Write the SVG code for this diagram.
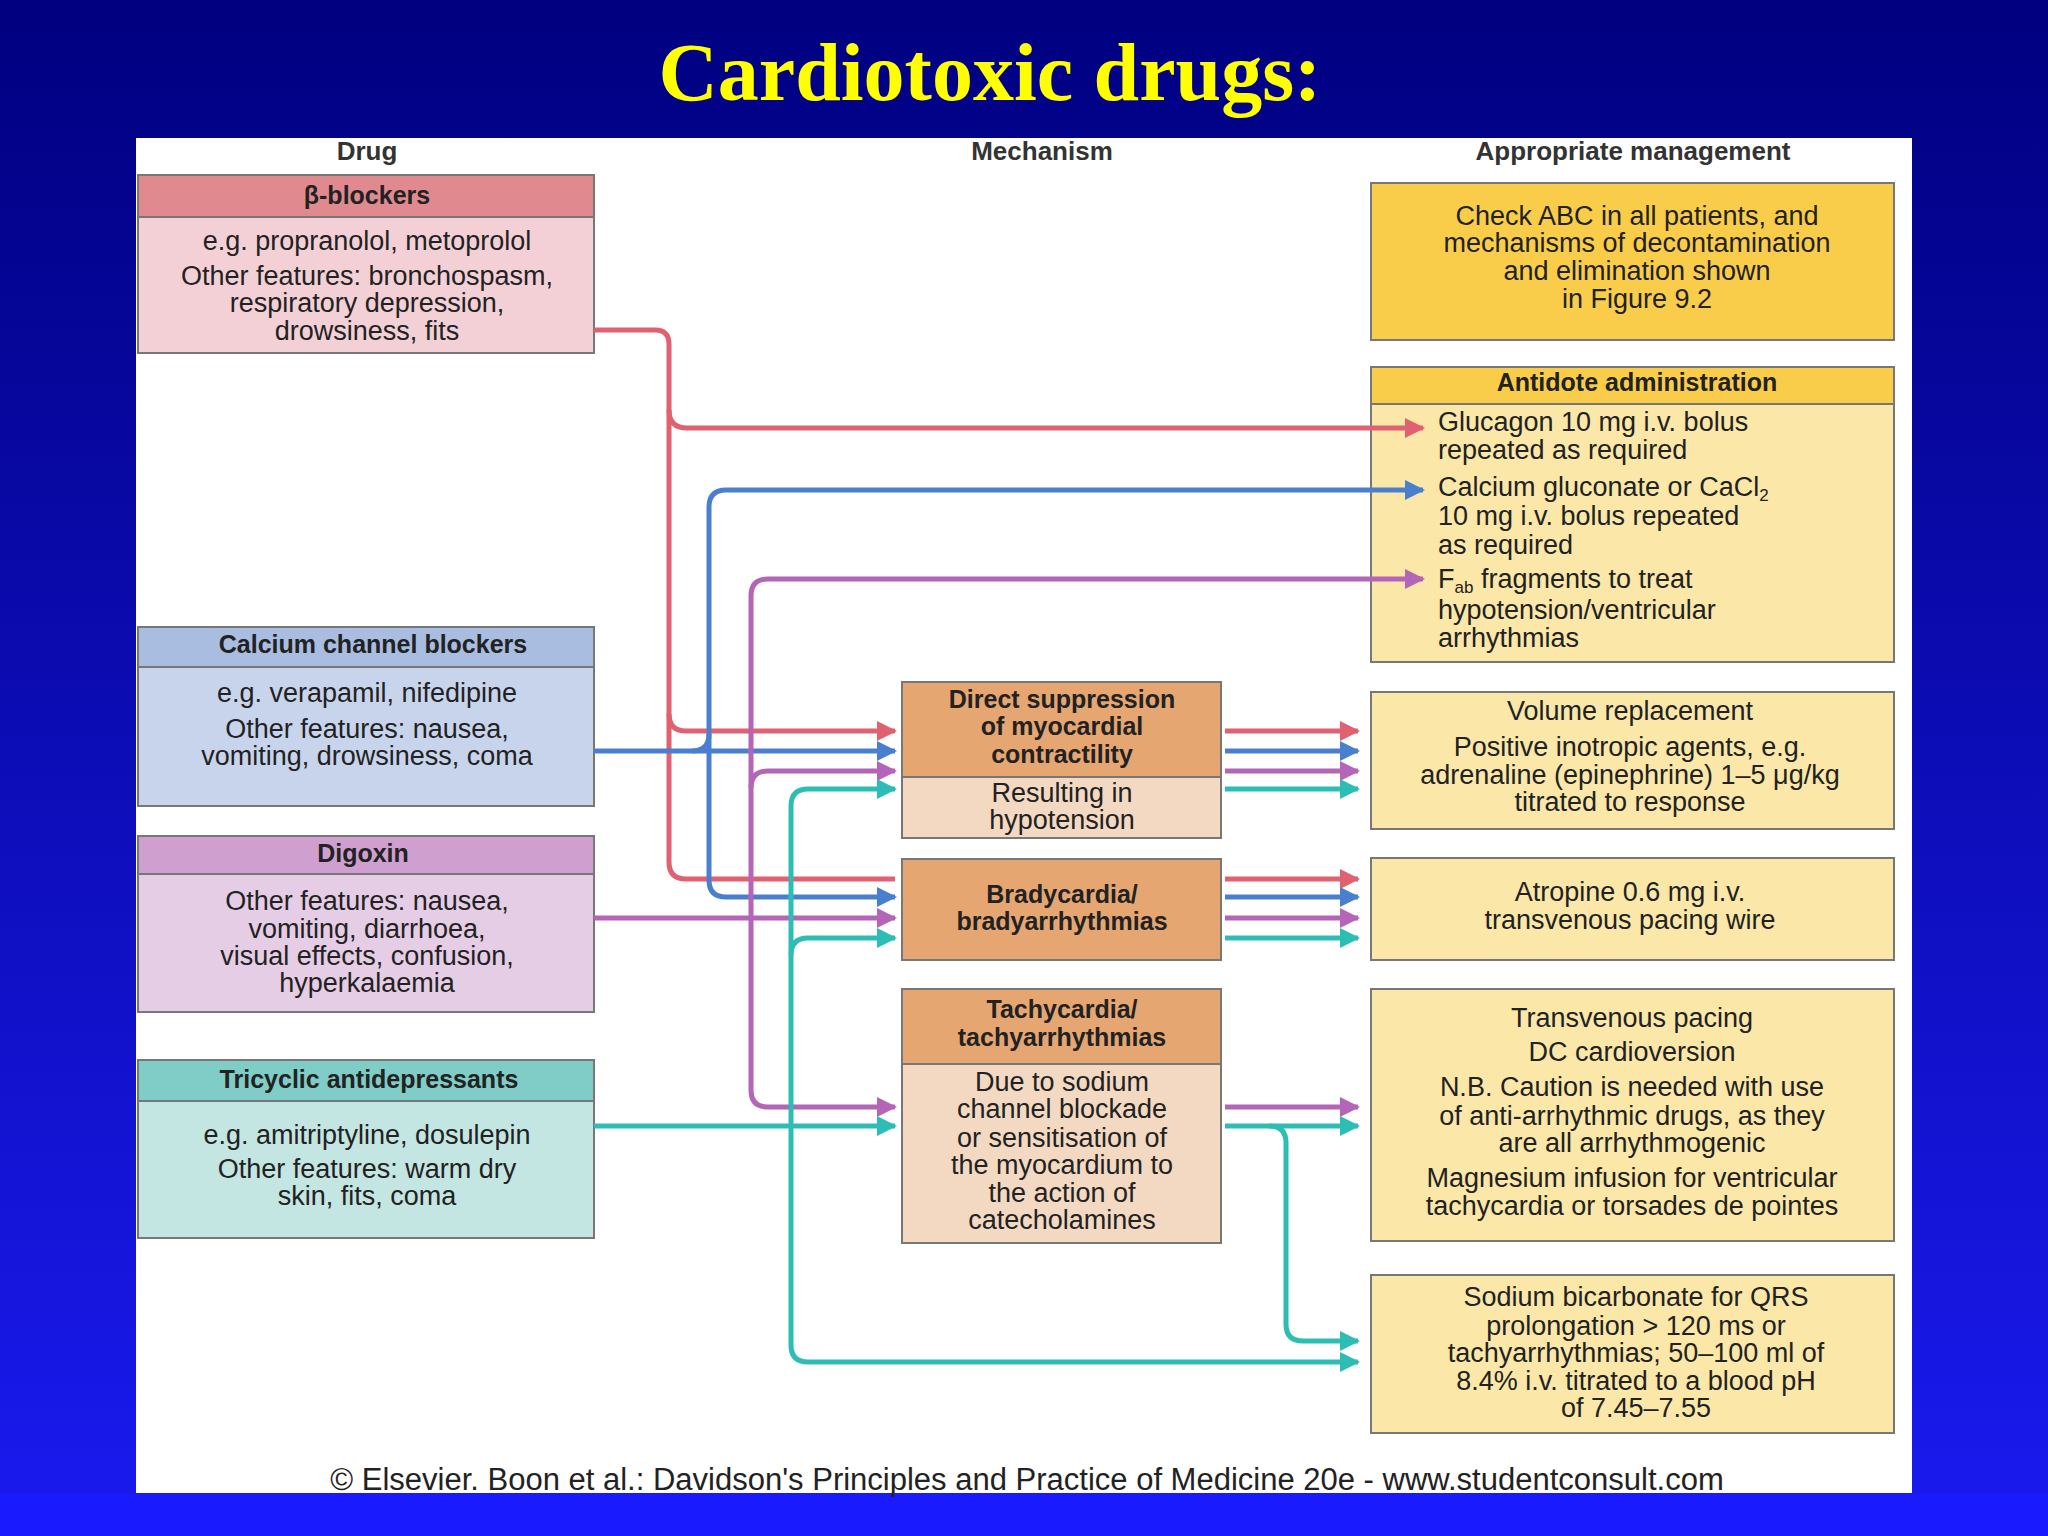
<svg xmlns="http://www.w3.org/2000/svg" width="2048" height="1536" viewBox="0 0 2048 1536">
<defs>
<linearGradient id="bg" x1="0" y1="0" x2="0" y2="1"><stop offset="0" stop-color="#000080"/><stop offset="1" stop-color="#1a1af0"/></linearGradient>
<marker id="mr" viewBox="0 0 10 10" refX="9" refY="5" markerWidth="4" markerHeight="4" orient="auto"><path d="M0,0L10,5L0,10z" fill="#e0616f"/></marker>
<marker id="mb" viewBox="0 0 10 10" refX="9" refY="5" markerWidth="4" markerHeight="4" orient="auto"><path d="M0,0L10,5L0,10z" fill="#4a7fd0"/></marker>
<marker id="mp" viewBox="0 0 10 10" refX="9" refY="5" markerWidth="4" markerHeight="4" orient="auto"><path d="M0,0L10,5L0,10z" fill="#b565b8"/></marker>
<marker id="mt" viewBox="0 0 10 10" refX="9" refY="5" markerWidth="4" markerHeight="4" orient="auto"><path d="M0,0L10,5L0,10z" fill="#2cbdb5"/></marker>
</defs>
<style>
text{font-family:"Liberation Sans",Arial,sans-serif;fill:#222;text-anchor:middle}
.b{font-size:27px}
.h{font-size:25px;font-weight:bold}
.l{text-anchor:start}
.col{font-size:26px;fill:#333;font-weight:bold}
rect{stroke:#777;stroke-width:2}
.r{stroke:#e0616f}.bl{stroke:#4a7fd0}.p{stroke:#b565b8}.t{stroke:#2cbdb5}
#connectors path{fill:none;stroke-width:5}
.r{marker-end:url(#mr)}.bl{marker-end:url(#mb)}.p{marker-end:url(#mp)}.t{marker-end:url(#mt)}
.nm{marker-end:none!important}
</style>
<rect x="0" y="0" width="2048" height="1536" fill="url(#bg)" style="stroke:none"/>
<rect x="0" y="1493" width="2048" height="43" fill="#1a1aff" style="stroke:none"/>
<text x="990" y="100" style="font-family:'Liberation Serif',serif;font-weight:bold;font-size:82px;fill:#ffff00">Cardiotoxic drugs:</text>
<rect x="136" y="138" width="1776" height="1355" fill="#fff" style="stroke:none"/>
<text class="col" x="367" y="160">Drug</text>
<text class="col" x="1042" y="160">Mechanism</text>
<text class="col" x="1633" y="160">Appropriate management</text>

<g id="beta">
<rect x="138" y="175" width="456" height="42" fill="#e08a90"/><rect x="138" y="217" width="456" height="136" fill="#f3d0d6"/>
<text class="h" x="367" y="204">β-blockers</text>
<text class="b" x="367" y="250">e.g. propranolol, metoprolol</text>
<text class="b" x="367" y="285">Other features: bronchospasm,</text>
<text class="b" x="367" y="312">respiratory depression,</text>
<text class="b" x="367" y="340">drowsiness, fits</text>
</g>
<g id="ccb">
<rect x="138" y="627" width="456" height="40" fill="#a8bde0"/><rect x="138" y="667" width="456" height="139" fill="#c8d4ec"/>
<text class="h" x="373" y="653">Calcium channel blockers</text>
<text class="b" x="367" y="702">e.g. verapamil, nifedipine</text>
<text class="b" x="367" y="738">Other features: nausea,</text>
<text class="b" x="367" y="765">vomiting, drowsiness, coma</text>
</g>
<g id="digoxin">
<rect x="138" y="836" width="456" height="38" fill="#cf9fd0"/><rect x="138" y="874" width="456" height="138" fill="#e6cde6"/>
<text class="h" x="363" y="862">Digoxin</text>
<text class="b" x="367" y="910">Other features: nausea,</text>
<text class="b" x="367" y="938">vomiting, diarrhoea,</text>
<text class="b" x="367" y="965">visual effects, confusion,</text>
<text class="b" x="367" y="992">hyperkalaemia</text>
</g>
<g id="tca">
<rect x="138" y="1060" width="456" height="41" fill="#7fcdc6"/><rect x="138" y="1101" width="456" height="137" fill="#c4e6e2"/>
<text class="h" x="369" y="1088">Tricyclic antidepressants</text>
<text class="b" x="367" y="1144">e.g. amitriptyline, dosulepin</text>
<text class="b" x="367" y="1178">Other features: warm dry</text>
<text class="b" x="367" y="1205">skin, fits, coma</text>
</g>

<g id="direct">
<rect x="902" y="682" width="319" height="95" fill="#e6a672"/><rect x="902" y="777" width="319" height="61" fill="#f3d9c2"/>
<text class="h" x="1062" y="708">Direct suppression</text>
<text class="h" x="1062" y="735">of myocardial</text>
<text class="h" x="1062" y="763">contractility</text>
<text class="b" x="1062" y="802">Resulting in</text>
<text class="b" x="1062" y="829">hypotension</text>
</g>
<g id="brady">
<rect x="902" y="859" width="319" height="101" fill="#e6a672"/>
<text class="h" x="1062" y="903">Bradycardia/</text>
<text class="h" x="1062" y="930">bradyarrhythmias</text>
</g>
<g id="tachy">
<rect x="902" y="989" width="319" height="75" fill="#e6a672"/><rect x="902" y="1064" width="319" height="179" fill="#f3d9c2"/>
<text class="h" x="1062" y="1018">Tachycardia/</text>
<text class="h" x="1062" y="1046">tachyarrhythmias</text>
<text class="b" x="1062" y="1091">Due to sodium</text>
<text class="b" x="1062" y="1118">channel blockade</text>
<text class="b" x="1062" y="1147">or sensitisation of</text>
<text class="b" x="1062" y="1174">the myocardium to</text>
<text class="b" x="1062" y="1202">the action of</text>
<text class="b" x="1062" y="1229">catecholamines</text>
</g>

<g id="abc">
<rect x="1371" y="183" width="523" height="157" fill="#f9cd4a"/>
<text class="b" x="1637" y="225">Check ABC in all patients, and</text>
<text class="b" x="1637" y="252">mechanisms of decontamination</text>
<text class="b" x="1637" y="280">and elimination shown</text>
<text class="b" x="1637" y="308">in Figure 9.2</text>
</g>
<g id="antidote">
<rect x="1371" y="367" width="523" height="37" fill="#f9cd4a"/><rect x="1371" y="404" width="523" height="258" fill="#fbe7a8"/>
<text class="h" x="1637" y="391">Antidote administration</text>
<text class="b l" x="1438" y="431">Glucagon 10 mg i.v. bolus</text>
<text class="b l" x="1438" y="459">repeated as required</text>
<text class="b l" x="1438" y="496">Calcium gluconate or CaCl<tspan font-size="17" dy="5">2</tspan></text>
<text class="b l" x="1438" y="525">10 mg i.v. bolus repeated</text>
<text class="b l" x="1438" y="554">as required</text>
<text class="b l" x="1438" y="588">F<tspan font-size="17" dy="5">ab</tspan><tspan dy="-5"> fragments to treat</tspan></text>
<text class="b l" x="1438" y="619">hypotension/ventricular</text>
<text class="b l" x="1438" y="647">arrhythmias</text>
</g>
<g id="volume">
<rect x="1371" y="692" width="523" height="137" fill="#fbe7a8"/>
<text class="b" x="1630" y="720">Volume replacement</text>
<text class="b" x="1630" y="756">Positive inotropic agents, e.g.</text>
<text class="b" x="1630" y="784">adrenaline (epinephrine) 1–5 μg/kg</text>
<text class="b" x="1630" y="811">titrated to response</text>
</g>
<g id="atropine">
<rect x="1371" y="858" width="523" height="102" fill="#fbe7a8"/>
<text class="b" x="1630" y="901">Atropine 0.6 mg i.v.</text>
<text class="b" x="1630" y="929">transvenous pacing wire</text>
</g>
<g id="pacing">
<rect x="1371" y="989" width="523" height="252" fill="#fbe7a8"/>
<text class="b" x="1632" y="1027">Transvenous pacing</text>
<text class="b" x="1632" y="1061">DC cardioversion</text>
<text class="b" x="1632" y="1096">N.B. Caution is needed with use</text>
<text class="b" x="1632" y="1125">of anti-arrhythmic drugs, as they</text>
<text class="b" x="1632" y="1152">are all arrhythmogenic</text>
<text class="b" x="1632" y="1187">Magnesium infusion for ventricular</text>
<text class="b" x="1632" y="1215">tachycardia or torsades de pointes</text>
</g>
<g id="bicarb">
<rect x="1371" y="1275" width="523" height="158" fill="#fbe7a8"/>
<text class="b" x="1636" y="1306">Sodium bicarbonate for QRS</text>
<text class="b" x="1636" y="1335">prolongation &gt; 120 ms or</text>
<text class="b" x="1636" y="1362">tachyarrhythmias; 50–100 ml of</text>
<text class="b" x="1636" y="1390">8.4% i.v. titrated to a blood pH</text>
<text class="b" x="1636" y="1417">of 7.45–7.55</text>
</g>

<g id="connectors">
<path class="r nm" d="M594,330 H655 Q669,330 669,344 V862 Q669,879 686,879 H895"/>
<path class="r" d="M669,410 Q669,428 687,428 H1423"/>
<path class="r" d="M669,714 Q669,731 686,731 H895"/>
<path class="r" d="M1225,731 H1358"/><path class="r" d="M1225,879 H1358"/>
<path class="bl" d="M594,751 H895"/>
<path class="bl" d="M709,751 V507 Q709,490 726,490 H1423"/>
<path class="bl" d="M709,751 V880 Q709,897 726,897 H895"/>
<path class="bl nm" d="M709,734 Q709,751 692,751"/>
<path class="bl" d="M1225,751 H1358"/><path class="bl" d="M1225,897 H1358"/>
<path class="p" d="M594,918 H895"/>
<path class="p" d="M751,918 V596 Q751,579 768,579 H1423"/>
<path class="p" d="M751,918 V1090 Q751,1107 768,1107 H895"/>
<path class="p" d="M751,788 Q751,771 768,771 H895"/>
<path class="p" d="M1225,771 H1358"/><path class="p" d="M1225,918 H1358"/><path class="p" d="M1225,1107 H1358"/>
<path class="t" d="M594,1126 H895"/>
<path class="t" d="M791,1126 V806 Q791,789 808,789 H895"/>
<path class="t" d="M791,1126 V1345 Q791,1362 808,1362 H1358"/>
<path class="t" d="M791,955 Q791,938 808,938 H895"/>
<path class="t" d="M1225,789 H1358"/><path class="t" d="M1225,938 H1358"/><path class="t" d="M1225,1126 H1358"/>
<path class="t" d="M1269,1126 Q1286,1126 1286,1143 V1324 Q1286,1341 1303,1341 H1358"/>
</g>
<text x="1027" y="1490" style="font-size:31px;fill:#222">© Elsevier. Boon et al.: Davidson's Principles and Practice of Medicine 20e - www.studentconsult.com</text>
</svg>
